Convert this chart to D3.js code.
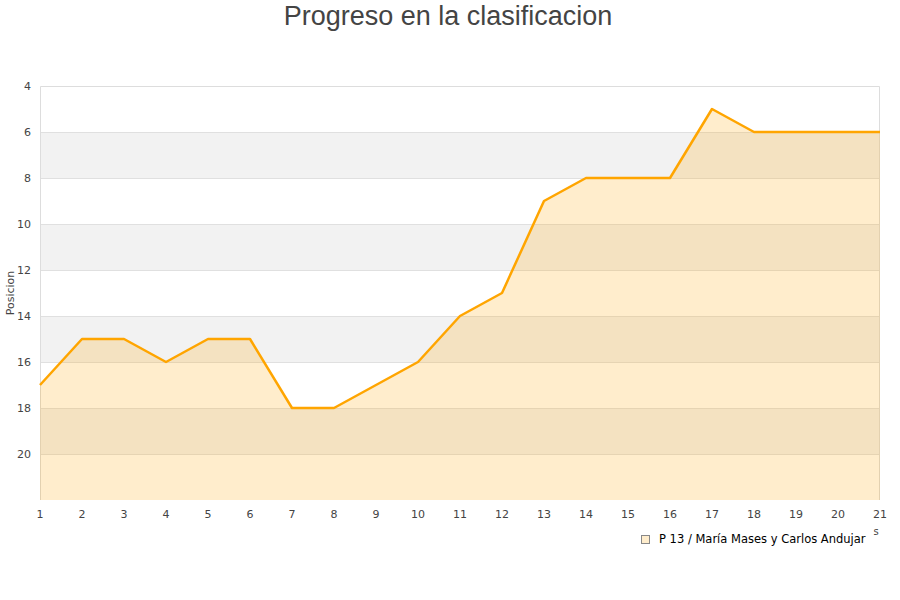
<!DOCTYPE html>
<html><head><meta charset="utf-8">
<script src="https://cdn.jsdelivr.net/npm/d3@7/dist/d3.min.js"></script>
<style>body{margin:0;background:#fff;font-family:"DejaVu Sans",sans-serif}</style>
</head><body><svg id="c" width="900" height="600"></svg>
<script>
const rounds = [1,2,3,4,5,6,7,8,9,10,11,12,13,14,15,16,17,18,19,20,21];
const positions = [17,15,15,16,15,15,18,18,17,16,14,13,9,8,8,8,5,6,6,6,6];
const yTicks = [4,6,8,10,12,14,16,18,20];
const seriesName = "P 13 / María Mases y Carlos Andujar";
const title = "Progreso en la clasificacion";
const yTitle = "Posicion";

const svg = d3.select("#c");
const m = {l:40, r:880, t:86, b:500};
const x = d3.scaleLinear().domain([1,21]).range([m.l, m.r]);
const y = d3.scaleLinear().domain([4,22]).range([m.t, m.b]);

// bands
const bands = d3.range(4,22,2);
svg.selectAll("rect.band").data(bands).enter().append("rect")
  .attr("x", m.l).attr("width", m.r-m.l)
  .attr("y", d=>y(d)).attr("height", d=>y(d+2)-y(d))
  .attr("fill", (d,i)=> i%2===1 ? "#f2f2f2" : "#ffffff");
// grid
svg.selectAll("line.grid").data(d3.range(6,22,2)).enter().append("line")
  .attr("x1", m.l).attr("x2", m.r).attr("y1", d=>y(d)+0.5).attr("y2", d=>y(d)+0.5)
  .attr("stroke", "#e0e0e0");
// border
svg.append("path").attr("d", `M${m.l+0.5},${m.b}V${m.t+0.5}H${m.r-0.5}V${m.b}`)
  .attr("fill","none").attr("stroke","#dddddd");

const data = rounds.map((r,i)=>({r, p:positions[i]}));
svg.append("path").datum(data)
  .attr("d", d3.area().x(d=>x(d.r)).y0(y(22)).y1(d=>y(d.p)))
  .attr("fill", "rgba(255,165,0,0.2)");
svg.append("path").datum(data)
  .attr("d", d3.line().x(d=>x(d.r)).y(d=>y(d.p)))
  .attr("fill","none").attr("stroke","#ffa500").attr("stroke-width",2.5).attr("stroke-linejoin","round");

// y axis labels
svg.append("g").selectAll("text").data(yTicks).enter().append("text")
  .attr("x", 31).attr("y", d=>y(d)+4).attr("text-anchor","end")
  .attr("font-size", 11).attr("fill","#444").text(d=>d);
// x axis labels
svg.append("g").selectAll("text").data(rounds).enter().append("text")
  .attr("x", d=>x(d)).attr("y", 518).attr("text-anchor","middle")
  .attr("font-size", 11).attr("fill","#444").text(d=>d);

// titles
svg.append("text").attr("x",448).attr("y",25).attr("text-anchor","middle")
  .attr("font-family","'Liberation Sans', Arial, sans-serif")
  .attr("font-size",27).attr("fill","#444").text(title);
svg.append("text").attr("transform","translate(14,293) rotate(-90)")
  .attr("text-anchor","middle").attr("font-size",11).attr("fill","#444").text(yTitle);
svg.append("text").attr("x",876).attr("y",535).attr("text-anchor","middle")
  .attr("font-size",10).attr("fill","#444").text("s");

// legend
svg.append("rect").attr("x",641.5).attr("y",535.5).attr("width",8).attr("height",8)
  .attr("fill","#ffedcc").attr("stroke","#888");
svg.append("text").attr("x",659).attr("y",543).attr("font-size",11.5).attr("fill","#000").text(seriesName);
</script></body></html>
